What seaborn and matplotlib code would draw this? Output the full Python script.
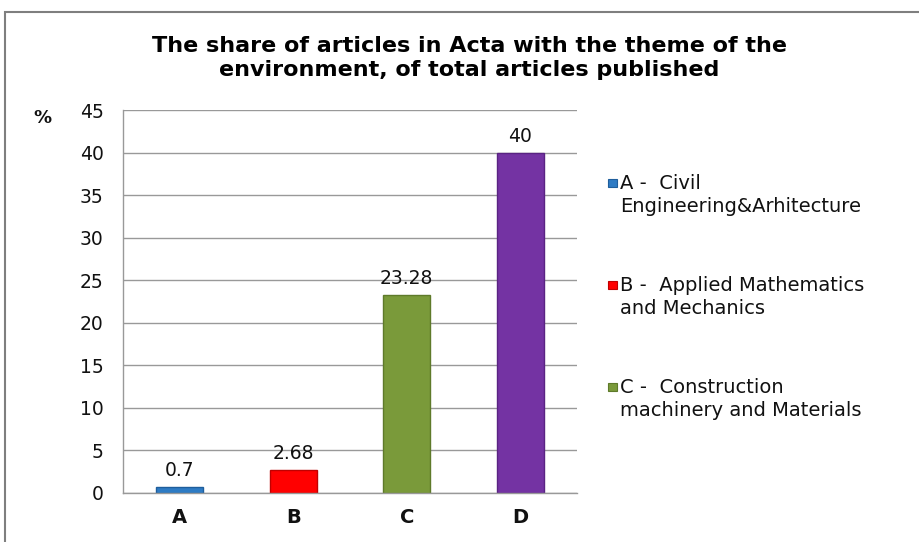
import matplotlib
matplotlib.use("Agg")
import matplotlib.pyplot as plt
import matplotlib.patches as mpatches
import seaborn as sns
import pandas as pd

categories = ["A", "B", "C", "D"]
values = [0.7, 2.68, 23.28, 40]
value_labels = ["0.7", "2.68", "23.28", "40"]
colors = ["#2E7BC4", "#FF0000", "#7A9A3A", "#7433A3"]
edge_colors = ["#1F5E9C", "#C00000", "#5E7A2A", "#5A2383"]
legend_labels = [
    "A -  Civil\nEngineering&Arhitecture",
    "B -  Applied Mathematics\nand Mechanics",
    "C -  Construction\nmachinery and Materials",
]
yticks = [0, 5, 10, 15, 20, 25, 30, 35, 40, 45]
title = "The share of articles in Acta with the theme of the\nenvironment, of total articles published"

sns.set_theme(style="white")
plt.rcParams["font.family"] = ["DejaVu Sans"]

df = pd.DataFrame({"cat": categories, "val": values})

W, H = 919, 542
fig = plt.figure(figsize=(W / 100, H / 100), dpi=100)
ax = fig.add_axes([123 / W, 1 - 493 / H, (577 - 123) / W, (493 - 110) / H])

sns.barplot(data=df, x="cat", y="val", hue="cat", palette=colors,
            width=0.41, legend=False, ax=ax, linewidth=1, saturation=1)
for patch, ec in zip(ax.patches, edge_colors):
    patch.set_edgecolor(ec)

ax.set_ylim(0, 45)
ax.set_yticks(yticks)
ax.set_yticklabels([str(t) for t in yticks], fontsize=13.5)
ax.set_xlim(-0.5, 3.5)
ax.yaxis.grid(True, color="#999999", linewidth=1)
ax.set_axisbelow(True)
for side in ["top", "right"]:
    ax.spines[side].set_visible(False)
for side in ["bottom", "left"]:
    ax.spines[side].set_color("#999999")
    ax.spines[side].set_linewidth(1)
ax.tick_params(axis="y", length=0, pad=14, colors="#111111")
ax.tick_params(axis="x", length=0, pad=11, colors="#111111")
ax.set_xlabel("")
ax.set_ylabel("")
for lbl in ax.get_xticklabels():
    lbl.set_fontsize(14)
    lbl.set_fontweight("bold")

for i, (v, s) in enumerate(zip(values, value_labels)):
    ax.annotate(s, (i, v), xytext=(0, 5), textcoords="offset points",
                ha="center", va="bottom", fontsize=13.5, color="#111111")

fig.text(42 / W, 1 - 118 / H, "%", fontsize=13, fontweight="bold",
         ha="center", va="center", color="#111111")

fig.text(469 / W, 1 - 58 / H, title, fontsize=16, fontweight="bold",
         ha="center", va="center", linespacing=1.25, color="#000000")

# legend drawn entry by entry: swatch beside the first line of each label
legend_y = [183, 285, 387]
for c, ec, lab, y in zip(colors[:3], edge_colors[:3], legend_labels, legend_y):
    sw = mpatches.Rectangle((608 / W, 1 - (y + 4) / H), 9 / W, 8 / H,
                            transform=fig.transFigure, facecolor=c,
                            edgecolor=ec, linewidth=0.8)
    fig.patches.append(sw)
    fig.text(620 / W, 1 - (y - 9) / H, lab, fontsize=14, ha="left",
             va="top", linespacing=1.3, color="#111111")

border = mpatches.Rectangle((5 / W, -0.1), 1.2, 1 - 12 / H + 0.1,
                            transform=fig.transFigure, fill=False,
                            edgecolor="#7f7f7f", linewidth=1.5)
fig.patches.append(border)

fig.savefig("out.png", dpi=100)
